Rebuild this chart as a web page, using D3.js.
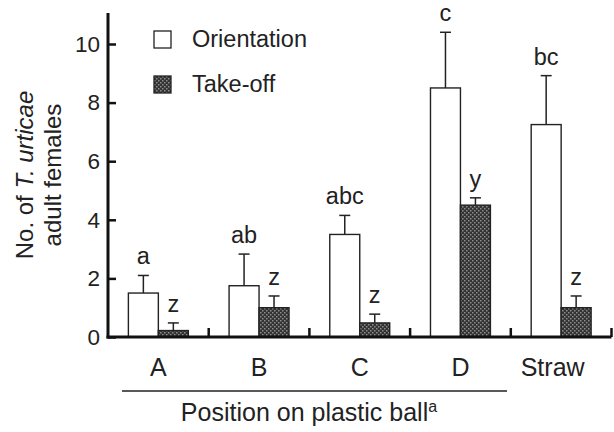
<!DOCTYPE html>
<html>
<head>
<meta charset="utf-8">
<script src="https://cdn.jsdelivr.net/npm/d3@7"></script>
<style>
  body { margin: 0; background: #fff; }
  svg { display: block; font-family: "Liberation Sans", Arial, sans-serif; }
</style>
</head>
<body>
<div id="viz"></div>
<script>
// values
var categories = ["A", "B", "C", "D", "Straw"];
var seriesNames = ["Orientation", "Take-off"];
var orientMean = [1.5, 1.75, 3.5, 8.5, 7.25];
var orientErr = [0.6, 1.08, 0.65, 1.9, 1.67];
var orientLetters = ["a", "ab", "abc", "c", "bc"];
var takeoffMean = [0.22, 1.0, 0.48, 4.5, 1.0];
var takeoffErr = [0.26, 0.4, 0.3, 0.25, 0.4];
var takeoffLetters = ["z", "z", "z", "y", "z"];
var yTicks = [0, 2, 4, 6, 8, 10];

var width = 614, height = 432;

var rows = [];
categories.forEach(function(c, i) {
  rows.push({cat: c, s: "Orientation", v: orientMean[i], e: orientErr[i], t: orientLetters[i]});
  rows.push({cat: c, s: "Take-off", v: takeoffMean[i], e: takeoffErr[i], t: takeoffLetters[i]});
});

var svg = d3.select("#viz").append("svg")
  .attr("width", width)
  .attr("height", height);

var defs = svg.append("defs");
var pat = defs.append("pattern")
  .attr("id", "stip")
  .attr("patternUnits", "userSpaceOnUse")
  .attr("width", 4).attr("height", 4);
pat.append("rect").attr("width", 4).attr("height", 4).attr("fill", "#333");
pat.append("rect").attr("x", 0).attr("y", 0).attr("width", 1.5).attr("height", 1.5).attr("fill", "#8c8c8c");
pat.append("rect").attr("x", 2).attr("y", 2).attr("width", 1.5).attr("height", 1.5).attr("fill", "#8c8c8c");

var x = d3.scaleBand().domain(categories).range([108, 611.5]).padding(0);
var xs = d3.scaleBand().domain(seriesNames).range([0, x.bandwidth()]).paddingInner(0).paddingOuter(0.68);
var y = d3.scaleLinear().domain([0, 10]).range([337, 44]);

var fillFor = function(s) { return s === "Orientation" ? "#fff" : "url(#stip)"; };

// bars
svg.append("g").selectAll("rect")
  .data(rows).enter().append("rect")
  .attr("x", d => x(d.cat) + xs(d.s))
  .attr("y", d => y(d.v))
  .attr("width", xs.bandwidth())
  .attr("height", d => y(0) - y(d.v))
  .attr("fill", d => fillFor(d.s))
  .attr("stroke", "#222")
  .attr("stroke-width", 1.4);

// error bars
var eb = svg.append("g").attr("stroke", "#222").attr("stroke-width", 1.5);
eb.selectAll("line.v").data(rows).enter().append("line")
  .attr("x1", d => x(d.cat) + xs(d.s) + xs.bandwidth() / 2)
  .attr("x2", d => x(d.cat) + xs(d.s) + xs.bandwidth() / 2)
  .attr("y1", d => y(d.v))
  .attr("y2", d => y(d.v + d.e));
eb.selectAll("line.c").data(rows).enter().append("line")
  .attr("x1", d => x(d.cat) + xs(d.s) + xs.bandwidth() / 2 - 5.5)
  .attr("x2", d => x(d.cat) + xs(d.s) + xs.bandwidth() / 2 + 5.5)
  .attr("y1", d => y(d.v + d.e))
  .attr("y2", d => y(d.v + d.e));

// significance letters
svg.append("g").selectAll("text")
  .data(rows).enter().append("text")
  .attr("x", d => x(d.cat) + xs(d.s) + xs.bandwidth() / 2)
  .attr("y", d => y(d.v + d.e) - 11)
  .attr("text-anchor", "middle")
  .attr("font-size", 23.5)
  .attr("fill", "#222")
  .text(d => d.t);

// y axis
var yAxis = svg.append("g")
  .attr("transform", "translate(108,0)")
  .call(d3.axisLeft(y).tickValues(yTicks).tickSizeInner(-8).tickSizeOuter(0).tickPadding(8));
yAxis.select(".domain").remove();
yAxis.selectAll(".tick line").attr("stroke", "#111").attr("stroke-width", 2.5);
yAxis.selectAll(".tick text").attr("font-size", 22.5).attr("fill", "#222")
  .attr("font-family", "Liberation Sans, Arial, sans-serif");
svg.append("line")
  .attr("x1", 108).attr("x2", 108)
  .attr("y1", 13).attr("y2", y(0) + 1.5)
  .attr("stroke", "#111").attr("stroke-width", 3);

// x axis
svg.append("line")
  .attr("x1", 106.5).attr("x2", x.range()[1])
  .attr("y1", y(0)).attr("y2", y(0))
  .attr("stroke", "#111").attr("stroke-width", 3);
svg.append("g").selectAll("line")
  .data(categories).enter().append("line")
  .attr("x1", d => x(d) + x.bandwidth())
  .attr("x2", d => x(d) + x.bandwidth())
  .attr("y1", y(0)).attr("y2", y(0) - 9)
  .attr("stroke", "#111").attr("stroke-width", 2.5);
svg.append("g").selectAll("text")
  .data(categories).enter().append("text")
  .attr("x", d => x(d) + x.bandwidth() / 2 - (d === "Straw" ? 8.5 : 0))
  .attr("y", 376)
  .attr("text-anchor", "middle")
  .attr("font-size", 25)
  .attr("fill", "#222")
  .text(d => d);

// bracket line under positions on ball
svg.append("line")
  .attr("x1", 122).attr("x2", 507)
  .attr("y1", 391).attr("y2", 391)
  .attr("stroke", "#222").attr("stroke-width", 1.4);

var xt = svg.append("text")
  .attr("x", 309).attr("y", 421)
  .attr("text-anchor", "middle")
  .attr("font-size", 25)
  .attr("fill", "#222");
xt.append("tspan").text("Position on plastic ball");
xt.append("tspan").attr("font-size", 16).attr("dy", -9).text("a");

// y title
var yt = svg.append("text")
  .attr("transform", "translate(33,175) rotate(-90)")
  .attr("text-anchor", "middle")
  .attr("font-size", 24)
  .attr("fill", "#222");
yt.append("tspan").text("No. of ");
yt.append("tspan").attr("font-style", "italic").text("T. urticae");
svg.append("text")
  .attr("transform", "translate(61,175) rotate(-90)")
  .attr("text-anchor", "middle")
  .attr("font-size", 24)
  .attr("fill", "#222")
  .text("adult females");

// legend
var leg = svg.append("g").selectAll("g")
  .data(seriesNames).enter().append("g")
  .attr("transform", (d, i) => "translate(154," + (31 + i * 45) + ")");
leg.append("rect")
  .attr("width", 17).attr("height", 17)
  .attr("fill", d => fillFor(d))
  .attr("stroke", "#222").attr("stroke-width", 1.3);
leg.append("text")
  .attr("x", 38).attr("y", 16)
  .attr("font-size", 23.5)
  .attr("fill", "#222")
  .text(d => d);
</script>
</body>
</html>
